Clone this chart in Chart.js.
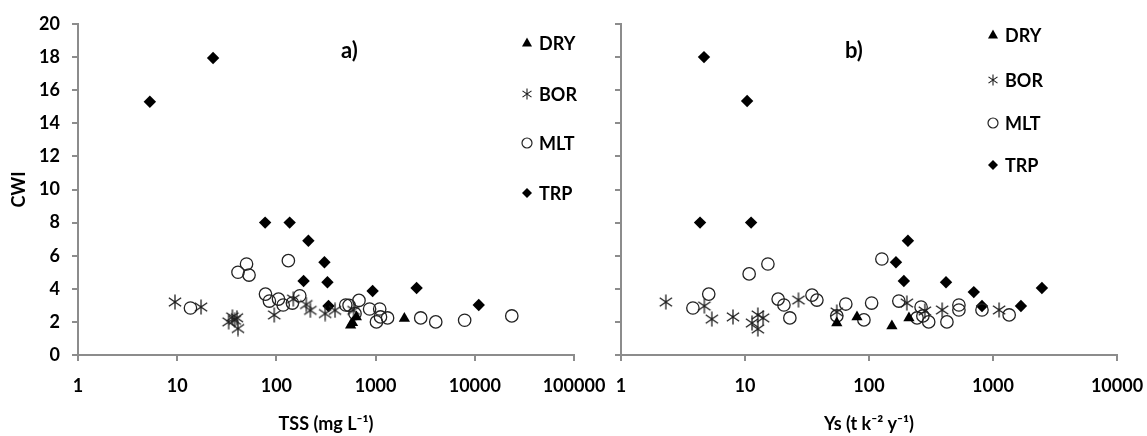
<!DOCTYPE html>
<html>
<head>
<meta charset="utf-8">
<script src="https://cdn.jsdelivr.net/npm/chart.js@4/dist/chart.umd.min.js"></script>
<style>
  html, body { margin: 0; padding: 0; background: #fff; }
  #wrap { position: relative; width: 1147px; height: 436px; overflow: hidden; }
  canvas { position: absolute; top: 0; }
  #panelA { left: 0; }
  #panelB { left: 600px; }
</style>
</head>
<body>
<div id="wrap">
  <canvas id="panelA" width="610" height="436"></canvas>
  <canvas id="panelB" width="547" height="436"></canvas>
</div>
<script>
// tick values
const cwiTicks = [0, 2, 4, 6, 8, 10, 12, 14, 16, 18, 20];
const tssTicks = [1, 10, 100, 1000, 10000, 100000];
const ysTicks = [1, 10, 100, 1000, 10000];
const seriesNames = ['DRY', 'BOR', 'MLT', 'TRP'];

// panel a) CWI vs TSS
const dryTss = [560, 585, 640, 1950];
const dryCwiA = [1.8, 1.95, 2.3, 2.2];
const borTss = [9.5, 17.4, 33, 36, 38, 40, 41, 95, 148, 200, 220, 310, 390, 600];
const borCwiA = [3.2, 2.9, 2.0, 2.3, 2.1, 2.25, 1.6, 2.42, 3.38, 3.05, 2.7, 2.5, 2.7, 2.7];
const mltTss = [13.6, 41, 50, 53, 132, 77.6, 85, 105, 117, 145, 172, 500, 540, 680, 620, 870, 1100, 1120, 1020, 1320, 2850, 4040, 7900, 23600];
const mltCwiA = [2.84, 5.0, 5.5, 4.83, 5.7, 3.68, 3.26, 3.38, 3.02, 3.14, 3.58, 3.02, 3.0, 3.3, 2.5, 2.78, 2.78, 2.3, 2.0, 2.24, 2.24, 2.0, 2.1, 2.36];
const trpTss = [5.3, 23, 77, 136, 210, 305, 188, 327, 335, 933, 2590, 10960];
const trpCwiA = [15.3, 17.95, 8.0, 8.0, 6.9, 5.6, 4.47, 4.4, 2.96, 3.87, 4.05, 3.02];

// panel b) CWI vs Ys
const dryYs = [55, 80, 153, 210];
const dryCwiB = [1.93, 2.3, 1.75, 2.24];
const borYs = [2.3, 4.7, 5.4, 8.0, 11.4, 12.7, 14, 12.7, 27, 55, 202, 282, 389, 1120];
const borCwiB = [3.2, 2.96, 2.17, 2.3, 1.93, 2.42, 2.24, 1.57, 3.32, 2.6, 3.14, 2.66, 2.72, 2.72];
const mltYs = [3.8, 5.1, 10.8, 15.3, 18.5, 20.6, 23, 34.7, 38, 55, 65, 91, 105, 127, 174, 244, 263, 272, 303, 425, 531, 531, 815, 1350];
const mltCwiB = [2.84, 3.68, 4.9, 5.5, 3.38, 3.02, 2.24, 3.62, 3.32, 2.36, 3.08, 2.12, 3.14, 5.8, 3.26, 2.24, 2.9, 2.36, 2.0, 2.0, 3.02, 2.72, 2.72, 2.42];
const trpYs = [4.67, 10.4, 4.34, 11.2, 206, 165, 191, 418, 700, 815, 1680, 2480];
const trpCwiB = [18.0, 15.35, 8.0, 8.0, 6.9, 5.6, 4.47, 4.4, 3.8, 2.96, 2.96, 4.05];

const FONT = 'Lato, "Open Sans", sans-serif';
const AXIS = '#8c8c8c';

function makeAsterisk(size, color, lw) {
    const c = document.createElement('canvas');
    c.width = size;
    c.height = size;
    const g = c.getContext('2d');
    const m = size / 2, r = size / 2 - 0.5;
    g.strokeStyle = color;
    g.lineWidth = lw;
    g.beginPath();
    g.moveTo(m, m - r);
    g.lineTo(m, m + r);
    const a = 35 * Math.PI / 180;
    const dx = r * Math.cos(a), dy = r * Math.sin(a);
    g.moveTo(m - dx, m - dy);
    g.lineTo(m + dx, m + dy);
    g.moveTo(m - dx, m + dy);
    g.lineTo(m + dx, m - dy);
    g.stroke();
    return c;
}

const starBig = makeAsterisk(16, '#1e1e1e', 1.3);
const starSmall = makeAsterisk(12, '#1e1e1e', 1.1);

const pts = (xs, ys) => xs.map((x, i) => ({ x, y: ys[i] }));

function datasets(dry, bor, mlt, trp) {
    return [
        { label: seriesNames[0], data: dry, pointStyle: 'triangle', pointRadius: 6.5,
          backgroundColor: '#000', borderColor: '#000', borderWidth: 0 },
        { label: seriesNames[1], data: bor, pointStyle: starBig, pointRadius: 8 },
        { label: seriesNames[2], data: mlt, pointStyle: 'circle', pointRadius: 6.2,
          backgroundColor: 'rgba(0,0,0,0)', borderColor: '#222', borderWidth: 1.3 },
        { label: seriesNames[3], data: trp, pointStyle: 'rectRot', pointRadius: 6.2,
          backgroundColor: '#000', borderColor: '#000', borderWidth: 0 }
    ];
}

function drawMarker(ctx, name, x, y) {
    ctx.save();
    ctx.fillStyle = '#000';
    ctx.strokeStyle = '#222';
    ctx.lineWidth = 1.2;
    ctx.beginPath();
    if (name === 'DRY') {
        ctx.moveTo(x, y - 5.5);
        ctx.lineTo(x + 5, y + 3.5);
        ctx.lineTo(x - 5, y + 3.5);
        ctx.closePath();
        ctx.fill();
    } else if (name === 'BOR') {
        ctx.drawImage(starSmall, x - 6, y - 6);
    } else if (name === 'MLT') {
        ctx.arc(x, y, 5, 0, Math.PI * 2);
        ctx.stroke();
    } else {
        ctx.moveTo(x, y - 5);
        ctx.lineTo(x + 5, y);
        ctx.lineTo(x, y + 5);
        ctx.lineTo(x - 5, y);
        ctx.closePath();
        ctx.fill();
    }
    ctx.restore();
}

const sideLegend = {
    id: 'sideLegend',
    afterDraw(chart, args, opts) {
        const ctx = chart.ctx;
        ctx.save();
        ctx.font = `bold 18px ${FONT}`;
        ctx.textBaseline = 'middle';
        ctx.textAlign = 'left';
        ctx.fillStyle = '#000';
        chart.data.datasets.forEach((ds, i) => {
            const y = opts.rows[i];
            drawMarker(ctx, ds.label, opts.x, y);
            ctx.fillText(ds.label, opts.x + 12, y + 1);
        });
        ctx.font = `bold 22px ${FONT}`;
        ctx.fillText(opts.tag, opts.tagX, opts.tagY);
        ctx.restore();
    }
};

function buildChart(id, cfg) {
    return new Chart(document.getElementById(id), {
        type: 'scatter',
        data: { datasets: cfg.datasets },
        options: {
            responsive: false,
            animation: false,
            layout: { padding: { top: 24, right: cfg.padRight, bottom: 0, left: 0 } },
            plugins: {
                legend: { display: false },
                tooltip: { enabled: false },
                sideLegend: cfg.legend
            },
            scales: {
                x: {
                    type: 'logarithmic',
                    min: cfg.xTicks[0],
                    max: cfg.xTicks[cfg.xTicks.length - 1],
                    afterBuildTicks: s => { s.ticks = cfg.xTicks.map(v => ({ value: v })); },
                    afterFit: s => { s.height = 81; s.paddingLeft = 0; s.paddingRight = 0; },
                    ticks: {
                        color: '#000',
                        font: { family: FONT, size: 18, weight: 'bold' },
                        padding: 14,
                        maxRotation: 0,
                        autoSkip: false,
                        callback: v => String(v)
                    },
                    grid: { drawOnChartArea: false, tickLength: 6, color: AXIS, lineWidth: 2 },
                    border: { color: AXIS, width: 2 },
                    title: {
                        display: true,
                        text: cfg.xTitle,
                        color: '#000',
                        font: { family: FONT, size: 18, weight: 'bold' },
                        padding: { top: 0, bottom: 1 }
                    }
                },
                y: {
                    min: 0,
                    max: 20,
                    afterBuildTicks: s => { s.ticks = cwiTicks.map(v => ({ value: v })); },
                    afterFit: s => { s.width = cfg.yWidth; s.paddingTop = 0; s.paddingBottom = 0; },
                    ticks: {
                        display: cfg.yLabels,
                        color: '#000',
                        font: { family: FONT, size: 18, weight: 'bold' },
                        padding: 12
                    },
                    grid: { drawOnChartArea: false, tickLength: 6, color: AXIS, lineWidth: 2 },
                    border: { color: AXIS, width: 2 },
                    title: {
                        display: cfg.yLabels,
                        text: 'CWI',
                        color: '#000',
                        font: { family: FONT, size: 18, weight: 'bold' },
                        padding: { top: 8, bottom: 0 }
                    }
                }
            }
        },
        plugins: [sideLegend]
    });
}

buildChart('panelA', {
    datasets: datasets(pts(dryTss, dryCwiA), pts(borTss, borCwiA), pts(mltTss, mltCwiA), pts(trpTss, trpCwiA)),
    xTicks: tssTicks,
    xTitle: 'TSS (mg L\u207B\u00B9)',
    yLabels: true,
    yWidth: 78,
    padRight: 36,
    legend: { x: 527, rows: [43, 94, 143, 193], tag: 'a)', tagX: 341, tagY: 51 }
});

buildChart('panelB', {
    datasets: datasets(pts(dryYs, dryCwiB), pts(borYs, borCwiB), pts(mltYs, mltCwiB), pts(trpYs, trpCwiB)),
    xTicks: ysTicks,
    xTitle: 'Ys (t k\u207B\u00B2 y\u207B\u00B9)',
    yLabels: false,
    yWidth: 21,
    padRight: 30,
    legend: { x: 393, rows: [35, 80, 123, 165], tag: 'b)', tagX: 245, tagY: 51 }
});
</script>
</body>
</html>
